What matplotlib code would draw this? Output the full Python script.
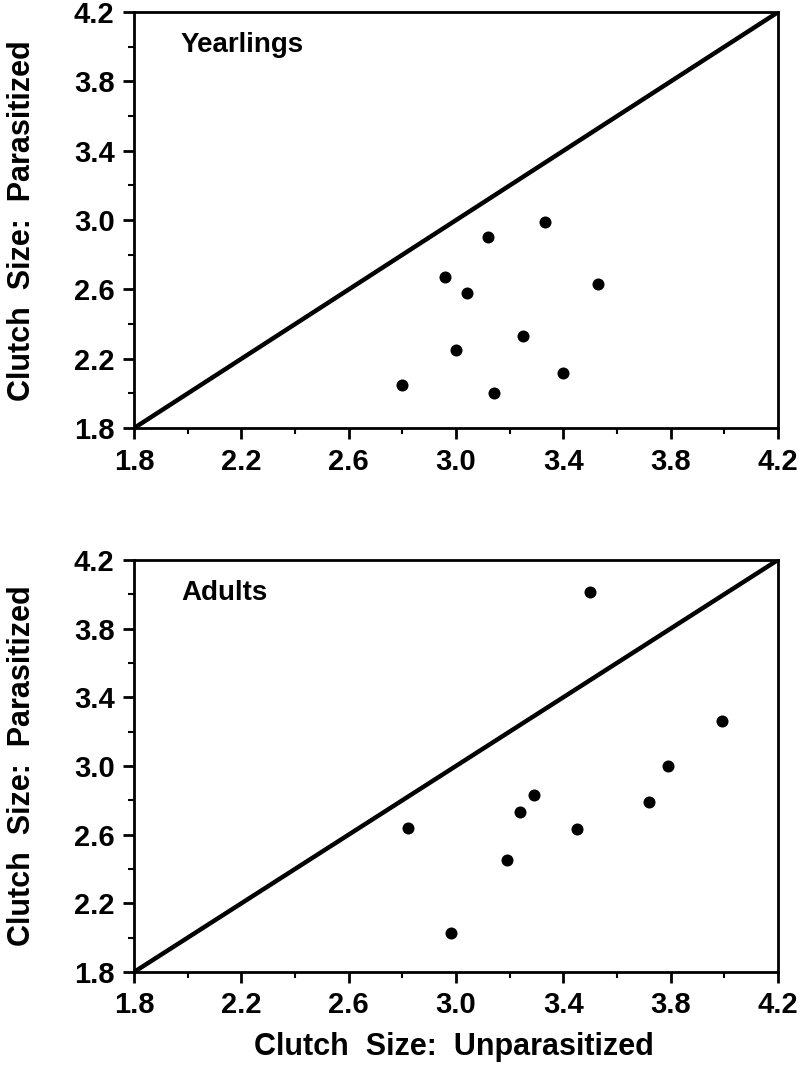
import numpy as np
import matplotlib
matplotlib.use("Agg")
import matplotlib.pyplot as plt
from matplotlib.ticker import FixedLocator, FormatStrFormatter

plt.rcParams['font.family'] = ['Liberation Sans', 'DejaVu Sans']
plt.rcParams['font.weight'] = 'bold'

# yearlings: unparasitized vs parasitized clutch size
year_x = [3.33, 3.12, 2.96, 3.04, 3.53, 3.25, 3.00, 2.80, 3.14, 3.40]
year_y = [2.99, 2.90, 2.67, 2.58, 2.63, 2.33, 2.25, 2.05, 2.00, 2.12]

# adults
adult_x = [3.50, 3.99, 3.79, 3.72, 3.29, 3.24, 3.45, 2.82, 3.19, 2.98]
adult_y = [4.01, 3.26, 3.00, 2.79, 2.83, 2.73, 2.63, 2.64, 2.45, 2.03]

panel_names = ["Yearlings", "Adults"]
major_ticks = [1.8, 2.2, 2.6, 3.0, 3.4, 3.8, 4.2]
minor_ticks = [2.0, 2.4, 2.8, 3.2, 3.6, 4.0]
lim = (1.8, 4.2)

fig = plt.figure(figsize=(8.04, 10.65), dpi=100)
ax1 = fig.add_axes([0.1667, 0.598, 0.801, 0.3906])
ax2 = fig.add_axes([0.1667, 0.0873, 0.801, 0.387])

for ax, xs, ys, name in [(ax1, year_x, year_y, panel_names[0]),
                         (ax2, adult_x, adult_y, panel_names[1])]:
    ax.plot(lim, lim, color='black', lw=3.2, solid_capstyle='butt', zorder=2)
    ax.scatter(xs, ys, s=75, color='black', zorder=3, linewidths=0)
    ax.set_xlim(lim)
    ax.set_ylim(lim)
    for axis in (ax.xaxis, ax.yaxis):
        axis.set_major_locator(FixedLocator(major_ticks))
        axis.set_minor_locator(FixedLocator(minor_ticks))
        axis.set_major_formatter(FormatStrFormatter('%.1f'))
    ax.tick_params(which='major', direction='out', length=8, width=2, labelsize=21, pad=6)
    ax.tick_params(which='minor', direction='out', length=4, width=1.5)
    for s in ax.spines.values():
        s.set_linewidth(2)
    ax.set_ylabel("Clutch  Size:  Parasitized", fontsize=22, fontweight='bold', va='center')
    ax.yaxis.set_label_coords(-0.174, 0.5)
    ax.text(0.073, 0.92, name, fontsize=20, fontweight='bold', va='center', ha='left',
            transform=ax.transAxes)

ax2.set_xlabel("Clutch  Size:  Unparasitized", fontsize=22, fontweight='bold', va='center')
ax2.xaxis.set_label_coords(0.497, -0.182)

fig.savefig("out.png", dpi=100)
